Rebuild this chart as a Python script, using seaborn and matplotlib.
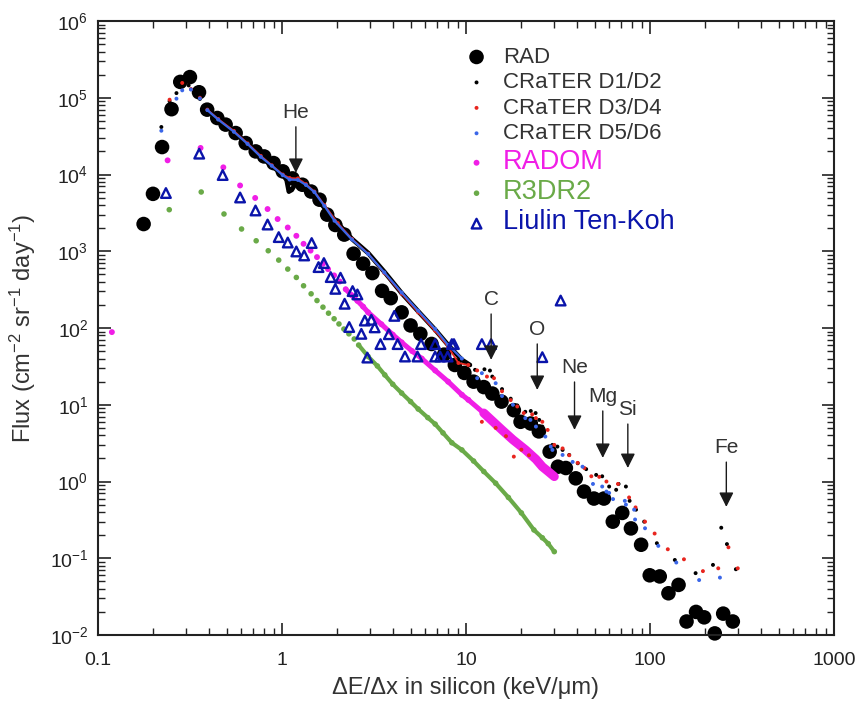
import numpy as np
import matplotlib
matplotlib.use("Agg")
import matplotlib.pyplot as plt
import seaborn as sns
from matplotlib.ticker import LogLocator, FuncFormatter, NullFormatter

# --- data (LET spectra, flux per keV/um) ---
rad_x = [0.177, 0.199, 0.223, 0.251, 0.28, 0.316, 0.354, 0.392, 0.445, 0.494,
         0.56, 0.635, 0.72, 0.80, 0.90, 1.01, 1.14, 1.29, 1.44, 1.60,
         1.76, 1.95, 2.18, 2.45, 2.76, 3.1, 3.5, 3.9, 4.47, 5.0,
         5.65, 6.5, 7.6, 8.7, 9.8, 11.0, 12.5, 13.9, 15.6, 18.2,
         19.8, 22.5, 24.9, 28.5, 31.6, 34.9, 39.5, 43.8, 49.6, 56.2,
         62.8, 70.7, 78.8, 89.5, 99.7, 113, 126, 143, 158, 178,
         197, 225, 250, 282]
rad_y = [2264, 5600, 22800, 71000, 161000, 186000, 118000, 70000, 54500, 44700,
         34700, 25700, 20000, 17200, 14100, 11000, 8900, 7360, 6000, 4700,
         3000, 2200, 1650, 930, 690, 520, 305, 245, 160, 108,
         84, 62, 45, 33, 26, 20, 17, 14, 11, 8.5,
         6.0, 5.7, 4.5, 2.45, 1.56, 1.5, 1.1, 0.74, 0.6, 0.6,
         0.30, 0.39, 0.245, 0.15, 0.06, 0.058, 0.035, 0.045, 0.015, 0.02,
         0.017, 0.0105, 0.019, 0.015]

d12_x = [0.221, 0.245, 0.267, 0.287, 0.311, 0.358, 0.393, 0.45, 0.548, 0.65,
         0.767, 0.88, 1.01, 1.06, 1.09, 1.13, 1.19, 1.27, 1.40, 1.50,
         1.70, 1.93, 2.4, 2.94, 3.6, 4.47, 5.5, 6.8, 8.0, 9.5,
         10.5, 11.2, 12.6, 13.5, 13.9, 15.7, 17.5, 19.0, 21.0, 22.5,
         23.9, 25.0, 26.0, 29.5, 31.4, 33.5, 36.4, 40.5, 45, 51,
         55, 60, 65.5, 67.5, 74, 77.5, 84, 93, 109, 136.5,
         177, 220, 244, 262, 293]
d12_y = [41600, 90000, 115000, 140000, 145000, 96500, 70000, 52000, 36500, 25000,
         17200, 13000, 9940, 8500, 6000, 6300, 7760, 7740, 6400, 5190,
         3700, 2580, 1450, 948, 540, 285, 165, 95, 60, 38.5,
         33, 28.5, 29, 27.9, 23.3, 16, 12, 9.8, 8.1, 8.3,
         7.8, 6.35, 5.2, 3.0, 2.85, 2.58, 2.22, 1.73, 1.45, 1.22,
         1.17, 0.86, 0.78, 0.93, 0.86, 0.56, 0.43, 0.30, 0.157, 0.095,
         0.064, 0.082, 0.25, 0.153, 0.072]

d34_x = [0.245, 0.287, 0.32, 0.358, 0.393, 0.45, 0.548, 0.65, 0.767, 0.88,
         1.01, 1.1, 1.22, 1.35, 1.5, 1.7, 2.01, 2.4, 2.94, 3.6,
         4.47, 5.5, 6.8, 8.0, 9.1, 10.3,
         11.5, 12.2, 13.0, 14.2, 14.5, 15.7, 16.5, 17.5, 18.2, 19.0,
         20.0, 20.6, 22.0, 22.9, 24.0, 26.0, 27.8, 30.2, 33.5, 36.4,
         40.5, 44, 48, 53, 58, 67, 77, 83.5, 94, 106,
         125, 153, 194, 235, 267, 300]
d34_y = [94400, 156000, 130000, 100000, 70000, 53000, 37000, 25500, 17500, 13200,
         10000, 9000, 8900, 7500, 6000, 4000, 2330, 1450, 930, 520,
         280, 160, 92, 57, 35, 33,
         28, 6.0, 23.3, 22.2, 5.0, 15, 3.9, 11.5, 2.11, 9.5,
         2.6, 7.8, 2.2, 7.5, 6.7, 6.0, 4.7, 3.0, 2.7, 2.2,
         1.75, 1.5, 1.17, 1.15, 1.0, 0.93, 0.62, 0.46, 0.30, 0.21,
         0.131, 0.097, 0.068, 0.074, 0.139, 0.074]

d56_x = [0.221, 0.267, 0.287, 0.32, 0.358, 0.393, 0.45, 0.548, 0.65, 0.767,
         0.88, 1.01, 1.1, 1.22, 1.35, 1.5, 1.7, 1.93, 2.4, 2.94,
         3.6, 4.47, 5.5, 6.8, 8.0, 9.5,
         11.5, 12.2, 14.5, 15.7, 18.0, 21.0, 22.4, 24.0, 27.0, 28.9,
         29.5, 33.5, 38, 43, 49, 55, 58, 60, 63, 73,
         74, 82, 83, 94, 111, 139, 185, 240]
d56_y = [37200, 97300, 125000, 128000, 98000, 69000, 52000, 36000, 25000, 17000,
         13000, 9800, 8600, 8500, 7300, 5900, 3900, 2500, 1420, 920,
         530, 290, 168, 97, 60, 40,
         22.2, 25.8, 19.1, 13, 10, 6.7, 6.35, 5.2, 3.85, 2.85,
         2.58, 2.22, 1.8, 1.56, 0.93, 0.86, 0.74, 0.71, 0.59, 0.56,
         0.50, 0.43, 0.32, 0.246, 0.145, 0.088, 0.052, 0.056]

radom_x = [0.119, 0.239, 0.361, 0.480, 0.592, 0.715, 0.835, 0.947, 1.075, 1.197,
           1.31, 1.43, 1.55, 1.67, 1.78, 1.92, 2.06, 2.22, 2.38, 2.57,
           2.76, 2.94, 3.47, 4.0, 4.47, 5.1, 5.75, 6.8, 8.0, 9.5,
           10.3, 12.5, 15.7, 18.0, 21.1, 24.0, 26.0, 28.0, 30.2]
radom_y = [88.5, 15300, 22200, 12400, 7200, 4950, 3550, 2630, 2040, 1590,
           1250, 1020, 840, 687, 585, 485, 404, 320, 270, 226,
           190, 160, 112, 82, 65, 50, 40, 28, 20, 13.5,
           11.6, 7.8, 4.7, 3.5, 2.58, 1.95, 1.56, 1.35, 1.16]

r3_x = [0.244, 0.364, 0.484, 0.603, 0.724, 0.842, 0.96, 1.075, 1.197, 1.31,
        1.44, 1.55, 1.67, 1.79, 1.92, 2.04, 2.17, 2.31, 2.47, 2.61,
        2.94, 3.3, 3.62, 4.0, 4.47, 5.0, 5.5, 6.2, 6.8, 7.5,
        8.38, 9.5, 11.0, 12.5, 14.5, 17.0, 20.0, 23.4, 26.0, 28.0, 30.2]
r3_y = [3480, 5920, 3060, 1950, 1370, 1016, 767, 586, 456, 355,
        279, 228, 187, 156, 132, 113, 97, 84, 72, 60,
        42.5, 32, 24.5, 18.5, 14.2, 11, 8.8, 6.8, 5.6, 4.3,
        3.2, 2.58, 1.85, 1.35, 0.95, 0.62, 0.39, 0.234, 0.185, 0.155, 0.122]

liulin_x = [0.234, 0.355, 0.476, 0.592, 0.718, 0.835, 0.96, 1.075, 1.197, 1.32,
            1.45, 1.58, 1.69, 1.84, 2.08, 1.95, 2.42, 2.57, 2.19, 2.82,
            3.06, 3.19, 2.32, 2.70, 2.91, 3.43, 3.81, 4.08, 4.25, 4.66,
            5.45, 5.70, 6.80, 6.80, 7.24, 7.95, 8.38, 8.6, 12.2, 13.7,
            26, 32.7]
liulin_y = [5740, 18700, 9850, 5020, 3400, 2230, 1530, 1300, 994, 882,
            1280, 622, 702, 461, 452, 324, 303, 274, 207, 125,
            128, 102, 103, 84, 41.2, 61.7, 83, 144, 61.7, 42.5,
            42.5, 61.7, 61.7, 42.5, 42.5, 42.5, 61.7, 61.7, 61.7, 61.7,
            41.7, 228]

elements = ["He", "C", "O", "Ne", "Mg", "Si", "Fe"]
elem_x = [1.19, 13.7, 24.4, 38.9, 55.4, 75.8, 260]
elem_label_y = [64000, 233, 94.8, 30.3, 12.7, 8.58, 2.74]
elem_tip_y = [10500, 38.5, 15.6, 4.71, 2.03, 1.50, 0.467]

x_ticks = [0.1, 1, 10, 100, 1000]
y_ticks = [1e-2, 1e-1, 1e0, 1e1, 1e2, 1e3, 1e4, 1e5, 1e6]

RED = "#e8251e"
BLUE = "#3a66e8"
MAGENTA = "#f01ee6"
GREEN = "#6aaa48"
NAVY = "#0a14aa"
GREY = "#333333"


def part(x, y, lo, hi):
    x = np.asarray(x)
    y = np.asarray(y)
    m = (x >= lo) & (x <= hi)
    return x[m], y[m]


sns.set_style("ticks")
plt.rcParams["font.family"] = ["Liberation Sans", "DejaVu Sans"]
plt.rcParams["mathtext.fontset"] = "custom"
plt.rcParams["mathtext.rm"] = "Liberation Sans"
plt.rcParams["mathtext.it"] = "Liberation Sans:italic"
plt.rcParams["mathtext.bf"] = "Liberation Sans:bold"
plt.rcParams["axes.unicode_minus"] = False

fig = plt.figure(figsize=(8.55, 7.03), dpi=100)
ax = fig.add_axes([0.1146, 0.0967, 0.8608, 0.8734])
ax.set_xscale("log")
ax.set_yscale("log")

# RAD big circles (bottom layer)
sns.scatterplot(x=rad_x, y=rad_y, s=110, color="black", edgecolor="none",
                label="RAD", zorder=2, clip_on=False, ax=ax)

# R3DR2: sparse dots, dense part drawn as a line
gx, gy = part(r3_x, r3_y, 2.5, 40)
sns.lineplot(x=gx, y=gy, color=GREEN, lw=3.0, sort=False, estimator=None,
             zorder=3, ax=ax)
sns.scatterplot(x=r3_x, y=r3_y, s=16, color=GREEN, edgecolor="none",
                label="R3DR2", zorder=3, ax=ax)

# RADOM
mx, my = part(radom_x, radom_y, 2.2, 12.5)
sns.lineplot(x=mx, y=my, color=MAGENTA, lw=3.6, sort=False, estimator=None,
             zorder=3, ax=ax)
mx, my = part(radom_x, radom_y, 12.5, 40)
sns.lineplot(x=mx, y=my, color=MAGENTA, lw=6.5, sort=False, estimator=None,
             zorder=3, ax=ax)
sns.scatterplot(x=radom_x, y=radom_y, s=18, color=MAGENTA, edgecolor="none",
                label="RADOM", zorder=3, ax=ax)

# CRaTER: dense low-LET part as lines, discrete dots beyond
for xs, ys, col, lw, lab in [(d12_x, d12_y, "black", 3.4, "CRaTER D1/D2"),
                             (d34_x, d34_y, RED, 1.3, "CRaTER D3/D4"),
                             (d56_x, d56_y, BLUE, 1.6, "CRaTER D5/D6")]:
    lx, ly = part(xs, ys, 0.36, 10.5)
    sns.lineplot(x=lx, y=ly, color=col, lw=lw, sort=False, estimator=None,
                 zorder=4, ax=ax)
    sns.scatterplot(x=xs, y=ys, s=8, color=col, edgecolor="none",
                    label=lab, zorder=4, ax=ax)

# Liulin Ten-Koh open triangles
sns.scatterplot(x=liulin_x, y=liulin_y, marker="^", s=48, facecolor="none",
                edgecolor=NAVY, linewidth=1.7, label="Liulin Ten-Koh",
                zorder=5, ax=ax)

# element arrows
for name, ex, ty, hy in zip(elements, elem_x, elem_label_y, elem_tip_y):
    ax.annotate(name, xy=(ex, hy), xytext=(ex, ty), ha="center", va="center",
                fontsize=15, color=GREY, zorder=6,
                arrowprops=dict(arrowstyle="-|>", color="#1a1a1a", lw=1.0,
                                mutation_scale=22, shrinkA=1, shrinkB=0))

ax.set_xlim(0.1, 1000)
ax.set_ylim(0.01, 1e6)
ax.set_xticks(x_ticks)
ax.set_yticks(y_ticks)
ax.xaxis.set_minor_locator(LogLocator(base=10, subs=np.arange(2, 10), numticks=100))
ax.xaxis.set_major_formatter(FuncFormatter(lambda v, p: f"{v:g}"))
ax.xaxis.set_minor_formatter(NullFormatter())
ax.yaxis.set_minor_locator(LogLocator(base=10, subs=np.arange(2, 10), numticks=100))
ax.yaxis.set_minor_formatter(NullFormatter())
ax.set_xlim(0.1, 1000)
ax.set_ylim(0.01, 1e6)

ax.tick_params(which="both", direction="in", top=True, right=True, colors="#222222")
ax.tick_params(which="major", length=9, width=1.2, labelsize=14)
ax.tick_params(which="minor", length=5, width=1.0)
ax.tick_params(axis="x", which="major", pad=12)
ax.tick_params(axis="y", which="major", pad=7)
for sp in ax.spines.values():
    sp.set_linewidth(1.5)
    sp.set_color("#222222")

ax.set_xlabel("\u0394E/\u0394x in silicon (keV/\u03bcm)", fontsize=17, color=GREY, labelpad=6)
ax.set_ylabel("Flux (cm$^{-2}$ sr$^{-1}$ day$^{-1}$)", fontsize=17, color=GREY, labelpad=8)

order = ["RAD", "CRaTER D1/D2", "CRaTER D3/D4", "CRaTER D5/D6",
         "RADOM", "R3DR2", "Liulin Ten-Koh"]
handles, labels = ax.get_legend_handles_labels()
hmap = dict(zip(labels, handles))
leg = ax.legend([hmap[k] for k in order], order, loc="upper left",
                bbox_to_anchor=(0.50, 0.958), frameon=False, fontsize=16,
                borderpad=0, handlelength=0.95, handletextpad=0.7,
                labelspacing=0.2, borderaxespad=0)
text_style = {"RADOM": (MAGENTA, 19.5), "R3DR2": (GREEN, 19.5),
              "Liulin Ten-Koh": (NAVY, 19.5)}
for t in leg.get_texts():
    col, size = text_style.get(t.get_text(), (GREY, 16))
    t.set_color(col)
    t.set_fontsize(size)

fig.savefig("out.png", dpi=100)
